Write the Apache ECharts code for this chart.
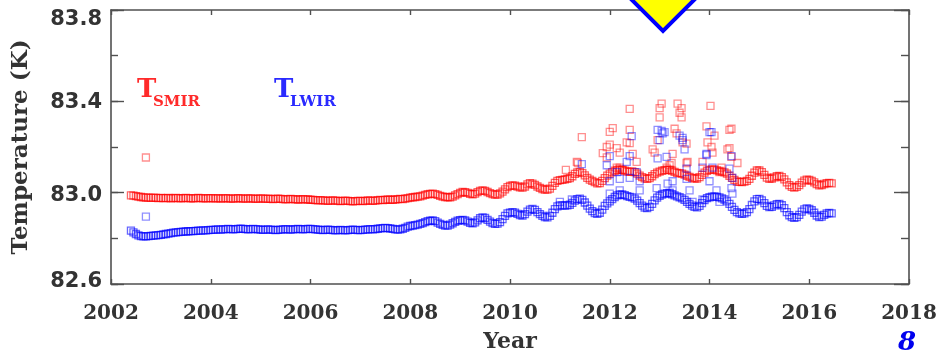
<!DOCTYPE html>
<html>
<head>
<meta charset="utf-8">
<script src="https://cdn.jsdelivr.net/npm/echarts@6/dist/echarts.min.js"></script>
<style>
  html, body { margin: 0; padding: 0; background: #fff; }
  #chart { width: 947px; height: 350px; }
</style>
</head>
<body>
<div id="chart"></div>
<script>
// Detector temperatures, sampled every 0.05 yr starting 2002.40
const sampleStart = 2002.40;
const sampleStep = 0.05;

const tSmir = [
  // 2002.40 - 2002.95
  82.988, 82.987, 82.985, 82.983, 82.981, 82.979, 82.978, 82.978, 82.977, 82.978, 82.977, 82.976,
  // 2003
  82.977, 82.976, 82.976, 82.977, 82.975, 82.976, 82.977, 82.976, 82.975, 82.976, 82.977, 82.976, 82.975, 82.975, 82.976, 82.977, 82.976, 82.975, 82.975, 82.976,
  // 2004
  82.976, 82.975, 82.975, 82.976, 82.974, 82.975, 82.976, 82.975, 82.974, 82.974, 82.975, 82.976, 82.975, 82.974, 82.974, 82.975, 82.975, 82.974, 82.973, 82.974,
  // 2005
  82.975, 82.974, 82.973, 82.974, 82.973, 82.972, 82.973, 82.974, 82.973, 82.972, 82.971, 82.972, 82.973, 82.972, 82.971, 82.970, 82.971, 82.972, 82.971, 82.970,
  // 2006
  82.969, 82.968, 82.967, 82.966, 82.967, 82.966, 82.965, 82.964, 82.965, 82.966, 82.965, 82.964, 82.963, 82.964, 82.965, 82.964, 82.963, 82.962, 82.963, 82.964,
  // 2007
  82.964, 82.963, 82.964, 82.966, 82.965, 82.964, 82.965, 82.967, 82.968, 82.967, 82.968, 82.970, 82.969, 82.968, 82.970, 82.972, 82.973, 82.972, 82.974, 82.976,
  // 2008
  82.978, 82.980, 82.981, 82.983, 82.984, 82.987, 82.990, 82.993, 82.995, 82.996, 82.994, 82.990, 82.986, 82.983, 82.981, 82.980, 82.980, 82.983, 82.988, 82.994,
  // 2009
  82.999, 83.003, 83.002, 82.999, 82.995, 82.993, 82.996, 83.002, 83.008, 83.010, 83.008, 83.003, 82.998, 82.994, 82.991, 82.992, 82.997, 83.005, 83.014, 83.024,
  // 2010
  83.030, 83.032, 83.031, 83.027, 83.023, 83.022, 83.027, 83.036, 83.042, 83.040, 83.034, 83.027, 83.021, 83.016, 83.013, 83.013, 83.018, 83.030, 83.043, 83.052,
  // 2011
  83.055, 83.056, 83.058, 83.061, 83.064, 83.072, 83.082, 83.089, 83.091, 83.086, 83.076, 83.065, 83.057, 83.052, 83.046, 83.041, 83.042, 83.052, 83.064, 83.075,
  // 2012
  83.083, 83.090, 83.096, 83.100, 83.102, 83.100, 83.096, 83.092, 83.091, 83.093, 83.090, 83.083, 83.075, 83.068, 83.063, 83.060, 83.064, 83.072, 83.081, 83.088,
  // 2013
  83.092, 83.096, 83.099, 83.101, 83.100, 83.096, 83.091, 83.087, 83.085, 83.083, 83.079, 83.074, 83.069, 83.065, 83.062, 83.062, 83.068, 83.078, 83.088, 83.096,
  // 2014
  83.100, 83.102, 83.101, 83.098, 83.095, 83.092, 83.089, 83.083, 83.074, 83.065, 83.056, 83.049, 83.047, 83.046, 83.048, 83.052, 83.060, 83.074, 83.088, 83.097,
  // 2015
  83.097, 83.090, 83.078, 83.066, 83.061, 83.062, 83.067, 83.072, 83.073, 83.068, 83.058, 83.045, 83.033, 83.025, 83.022, 83.025, 83.033, 83.044, 83.053, 83.057,
  // 2016.00 - 2016.45
  83.056, 83.052, 83.045, 83.037, 83.032, 83.033, 83.038, 83.042, 83.043, 83.041
];

const tLwir = [
  // 2002.40 - 2002.95
  82.834, 82.826, 82.819, 82.813, 82.810, 82.809, 82.809, 82.810, 82.811, 82.812, 82.813, 82.814,
  // 2003
  82.815, 82.817, 82.819, 82.821, 82.823, 82.825, 82.826, 82.827, 82.828, 82.829, 82.830, 82.831, 82.832, 82.832, 82.833, 82.834, 82.834, 82.835, 82.835, 82.836,
  // 2004
  82.837, 82.837, 82.838, 82.839, 82.838, 82.839, 82.840, 82.841, 82.840, 82.839, 82.840, 82.841, 82.842, 82.841, 82.840, 82.839, 82.840, 82.841, 82.840, 82.839,
  // 2005
  82.838, 82.837, 82.838, 82.839, 82.838, 82.837, 82.836, 82.837, 82.838, 82.839, 82.840, 82.839, 82.838, 82.839, 82.840, 82.841, 82.840, 82.839, 82.840, 82.841,
  // 2006
  82.841, 82.840, 82.839, 82.838, 82.837, 82.836, 82.837, 82.838, 82.837, 82.836, 82.835, 82.836, 82.837, 82.836, 82.835, 82.836, 82.837, 82.838, 82.837, 82.836,
  // 2007
  82.836, 82.837, 82.838, 82.839, 82.840, 82.839, 82.840, 82.842, 82.844, 82.845, 82.846, 82.845, 82.843, 82.841, 82.839, 82.838, 82.839, 82.842, 82.846, 82.851,
  // 2008
  82.854, 82.856, 82.858, 82.860, 82.863, 82.867, 82.871, 82.875, 82.877, 82.878, 82.875, 82.869, 82.863, 82.859, 82.856, 82.856, 82.860, 82.866, 82.872, 82.877,
  // 2009
  82.880, 82.881, 82.878, 82.873, 82.868, 82.866, 82.870, 82.879, 82.888, 82.892, 82.889, 82.881, 82.873, 82.867, 82.863, 82.864, 82.871, 82.884, 82.898, 82.909,
  // 2010
  82.913, 82.915, 82.913, 82.907, 82.902, 82.900, 82.906, 82.917, 82.926, 82.929, 82.925, 82.915, 82.906, 82.898, 82.893, 82.892, 82.898, 82.912, 82.928, 82.940,
  // 2011
  82.944, 82.944, 82.943, 82.944, 82.947, 82.955, 82.965, 82.972, 82.974, 82.968, 82.957, 82.943, 82.930, 82.919, 82.911, 82.907, 82.912, 82.926, 82.942, 82.953,
  // 2012
  82.962, 82.972, 82.981, 82.988, 82.992, 82.992, 82.989, 82.985, 82.982, 82.979, 82.974, 82.965, 82.954, 82.943, 82.935, 82.932, 82.938, 82.951, 82.966, 82.978,
  // 2013
  82.986, 82.992, 82.996, 82.998, 82.997, 82.993, 82.988, 82.984, 82.980, 82.975, 82.968, 82.960, 82.951, 82.943, 82.938, 82.936, 82.942, 82.954, 82.967, 82.976,
  // 2014
  82.980, 82.983, 82.984, 82.982, 82.979, 82.975, 82.970, 82.962, 82.951, 82.938, 82.925, 82.915, 82.909, 82.907, 82.909, 82.915, 82.928, 82.946, 82.962, 82.972,
  // 2015
  82.973, 82.966, 82.954, 82.942, 82.937, 82.938, 82.944, 82.950, 82.951, 82.945, 82.932, 82.915, 82.901, 82.893, 82.890, 82.893, 82.903, 82.917, 82.927, 82.931,
  // 2016.00 - 2016.45
  82.929, 82.923, 82.912, 82.900, 82.893, 82.895, 82.903, 82.909, 82.911, 82.909
];

// Individual off-trend readings, [year, K]
const smirOutliers = [
  [2002.70, 83.154],
  [2011.12, 83.100], [2011.34, 83.135], [2011.36, 83.130], [2011.44, 83.243],
  [2011.86, 83.173], [2011.94, 83.200], [2011.94, 83.155], [2012.00, 83.266], [2012.00, 83.210],
  [2012.06, 83.283], [2012.14, 83.195], [2012.14, 83.110], [2012.20, 83.110], [2012.20, 83.175],
  [2012.26, 83.100], [2012.34, 83.220], [2012.40, 83.367], [2012.40, 83.275], [2012.40, 83.217],
  [2012.46, 83.170], [2012.54, 83.135], [2012.86, 83.190], [2012.90, 83.175], [2012.96, 83.230],
  [2013.00, 83.370], [2013.00, 83.330], [2013.04, 83.390], [2013.14, 83.110], [2013.20, 83.120],
  [2013.24, 83.130], [2013.26, 83.170], [2013.30, 83.280], [2013.34, 83.260], [2013.36, 83.390],
  [2013.40, 83.350], [2013.44, 83.370], [2013.44, 83.330], [2013.46, 83.220], [2013.54, 83.215],
  [2013.54, 83.130], [2013.56, 83.135], [2013.86, 83.135], [2013.94, 83.290], [2013.96, 83.220],
  [2014.02, 83.380], [2014.04, 83.200], [2014.06, 83.175], [2014.10, 83.250], [2014.20, 83.090],
  [2014.24, 83.110], [2014.36, 83.190], [2014.40, 83.275], [2014.40, 83.195], [2014.44, 83.280],
  [2014.44, 83.157], [2014.56, 83.130]
];

const lwirOutliers = [
  [2002.70, 82.895],
  [2011.00, 82.960], [2011.24, 82.970], [2011.44, 83.125], [2011.94, 83.120],
  [2012.00, 83.160], [2012.00, 83.050], [2012.00, 82.996], [2012.14, 83.090], [2012.20, 83.060],
  [2012.20, 83.010], [2012.34, 83.135], [2012.40, 83.160], [2012.40, 83.065], [2012.44, 83.248],
  [2012.54, 83.090], [2012.60, 83.050], [2012.60, 83.010], [2012.94, 83.020], [2012.96, 83.275],
  [2012.96, 83.150], [2013.00, 83.230], [2013.04, 83.270], [2013.06, 83.260], [2013.10, 83.265],
  [2013.14, 83.157], [2013.16, 83.040], [2013.20, 83.000], [2013.26, 83.050], [2013.26, 83.010],
  [2013.40, 83.250], [2013.46, 83.230], [2013.46, 83.240], [2013.50, 83.190], [2013.54, 83.105],
  [2013.54, 83.060], [2013.60, 83.010], [2013.66, 82.960], [2013.86, 83.110], [2013.86, 82.970],
  [2013.94, 83.165], [2013.94, 83.170], [2014.00, 83.265], [2014.00, 83.050], [2014.04, 83.265],
  [2014.06, 83.110], [2014.14, 83.010], [2014.20, 82.960], [2014.40, 83.105], [2014.44, 83.160],
  [2014.44, 83.020], [2014.46, 83.065], [2014.46, 82.996]
];

const xTicks = { min: 2002, max: 2018, step: 2 };
const yTicks = { min: 82.6, max: 83.8, step: 0.2 };
const yLabelled = [82.6, 83.0, 83.4, 83.8];

const RED_TREND = 'rgba(255, 0, 0, 0.75)';
const BLUE_TREND = 'rgba(0, 0, 255, 0.75)';
const RED_SPOT = 'rgba(255, 0, 0, 0.55)';
const BLUE_SPOT = 'rgba(0, 0, 255, 0.55)';
const AXIS = '#505050';
const INK = '#333333';

function toPairs(values) {
  return values.map((v, i) => [+(sampleStart + i * sampleStep).toFixed(2), v]);
}

function squareSeries(name, data, color, z) {
  return {
    name: name,
    type: 'scatter',
    data: data,
    symbol: 'rect',
    symbolSize: 7,
    z: z,
    silent: true,
    animation: false,
    itemStyle: { color: 'transparent', borderColor: color, borderWidth: 1.3 }
  };
}

// vertical nudge of each printed y label, so the end labels sit inside the frame
function yLabel(v) {
  const k = Math.round(v * 10);
  if (k === 838) return '{a|83.8}';
  if (k === 834) return '{b|83.4}';
  if (k === 830) return '{c|83.0}';
  if (k === 826) return '{d|82.6}';
  return '';
}

const chart = echarts.init(document.getElementById('chart'), null, { renderer: 'canvas' });

const axisLineStyle = { color: AXIS, width: 1.6 };
const yLabelFont = { fontFamily: 'DejaVu Sans', fontWeight: 'bold', fontSize: 21, color: INK };

chart.setOption({
  backgroundColor: '#ffffff',
  animation: false,
  grid: { left: 111, right: 38, top: 10, bottom: 66, outerBoundsMode: 'none', containLabel: false },
  xAxis: [
    {
      type: 'value', position: 'bottom',
      min: xTicks.min, max: xTicks.max, interval: xTicks.step,
      name: 'Year', nameLocation: 'middle', nameGap: 47,
      nameTextStyle: { fontFamily: 'DejaVu Serif', fontWeight: 'bold', fontSize: 22, color: INK },
      axisLine: { show: true, lineStyle: axisLineStyle },
      axisTick: { show: true, inside: true, length: 5, lineStyle: { color: AXIS, width: 1.4 } },
      axisLabel: {
        margin: 20, fontFamily: 'DejaVu Serif', fontWeight: 'bold', fontSize: 20, color: INK,
        formatter: v => String(Math.round(v))
      },
      splitLine: { show: false }
    },
    {
      type: 'value', position: 'top',
      min: xTicks.min, max: xTicks.max, interval: xTicks.step,
      axisLine: { show: true, lineStyle: axisLineStyle },
      axisTick: { show: true, inside: true, length: 5, lineStyle: { color: AXIS, width: 1.4 } },
      axisLabel: { show: false },
      splitLine: { show: false }
    }
  ],
  yAxis: [
    {
      type: 'value', position: 'left',
      min: yTicks.min, max: yTicks.max, interval: yTicks.step,
      name: 'Temperature (K)', nameLocation: 'middle', nameGap: 78, nameRotate: 90,
      nameTextStyle: { fontFamily: 'DejaVu Serif', fontWeight: 'bold', fontSize: 23, color: INK },
      axisLine: { show: true, lineStyle: axisLineStyle },
      axisTick: { show: true, inside: true, length: 7, lineStyle: { color: AXIS, width: 1.4 } },
      axisLabel: {
        margin: 9, formatter: yLabel,
        rich: {
          a: Object.assign({ padding: [20, 0, 0, 0] }, yLabelFont),
          b: Object.assign({ padding: [3, 0, 0, 0] }, yLabelFont),
          c: Object.assign({ padding: [6, 0, 0, 0] }, yLabelFont),
          d: Object.assign({ padding: [0, 0, 5, 0] }, yLabelFont)
        }
      },
      splitLine: { show: false }
    },
    {
      type: 'value', position: 'left',
      min: yTicks.min, max: yTicks.max, interval: yTicks.step,
      axisLine: { show: false },
      axisTick: { show: true, inside: true, length: 13, customValues: yLabelled, lineStyle: { color: AXIS, width: 1.4 } },
      axisLabel: { show: false },
      splitLine: { show: false }
    },
    {
      type: 'value', position: 'right',
      min: yTicks.min, max: yTicks.max, interval: yTicks.step,
      axisLine: { show: true, lineStyle: axisLineStyle },
      axisTick: { show: true, inside: true, length: 8, lineStyle: { color: AXIS, width: 1.4 } },
      axisLabel: { show: false },
      splitLine: { show: false }
    },
    {
      type: 'value', position: 'right',
      min: yTicks.min, max: yTicks.max, interval: yTicks.step,
      axisLine: { show: false },
      axisTick: { show: true, inside: true, length: 15, customValues: yLabelled, lineStyle: { color: AXIS, width: 1.4 } },
      axisLabel: { show: false },
      splitLine: { show: false }
    }
  ],
  series: [
    squareSeries('T_SMIR', toPairs(tSmir), RED_TREND, 3),
    squareSeries('T_SMIR outliers', smirOutliers, RED_SPOT, 3),
    squareSeries('T_LWIR', toPairs(tLwir), BLUE_TREND, 4),
    squareSeries('T_LWIR outliers', lwirOutliers, BLUE_SPOT, 4)
  ],
  graphic: [
    // series labels with subscripts
    { type: 'text', left: 137, top: 77, style: { text: 'T', font: 'bold 26px "DejaVu Serif"', fill: '#ff2a2a' } },
    { type: 'text', left: 153, top: 95, style: { text: 'SMIR', font: 'bold 15px "DejaVu Serif"', fill: '#ff2a2a' } },
    { type: 'text', left: 274, top: 77, style: { text: 'T', font: 'bold 26px "DejaVu Serif"', fill: '#2a2aff' } },
    { type: 'text', left: 290, top: 95, style: { text: 'LWIR', font: 'bold 15px "DejaVu Serif"', fill: '#2a2aff' } },
    // pointer badge at the top edge
    {
      type: 'polygon', z: 10,
      shape: { points: [[663, -31], [694, 0], [663, 31], [632, 0]] },
      style: { fill: '#ffff00', stroke: '#0000ff', lineWidth: 4, lineJoin: 'miter' }
    },
    // slide number
    { type: 'text', left: 898, top: 330, style: { text: '8', font: 'italic bold 26px "DejaVu Serif"', fill: '#0000ee' } }
  ]
});
</script>
</body>
</html>
